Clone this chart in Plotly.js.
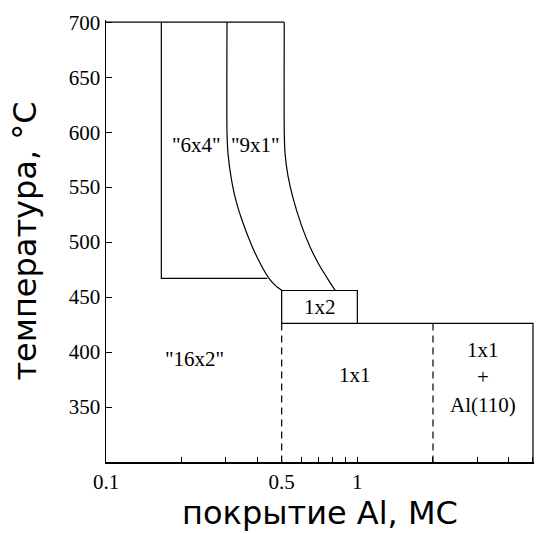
<!DOCTYPE html>
<html>
<head>
<meta charset="utf-8">
<script src="https://cdn.plot.ly/plotly-3.0.1.min.js"></script>
<style>
html,body{margin:0;padding:0;background:#fff;}
#chart{width:538px;height:534px;}
#chart .xtick text, #chart .ytick text { font-family: 'Liberation Serif', 'Times New Roman', serif !important; }
</style>
</head>
<body>
<div id="chart"></div>
<script>
// Phase boundaries (coverage Al in ML, temperature in °C)
const topEdgeX = [0.1, 0.512];
const topEdgeY = [700, 700];

const left6x4X = [0.166, 0.166, 0.438];
const left6x4Y = [700, 467, 467];

const curve1X = [0.303, 0.303, 0.306, 0.314, 0.327, 0.350, 0.380, 0.412, 0.445, 0.475, 0.502];
const curve1Y = [700, 600, 580, 560, 540, 518, 497, 480, 467, 460, 456];

const curve2X = [0.512, 0.512, 0.516, 0.530, 0.555, 0.600, 0.650, 0.710, 0.770, 0.817];
const curve2Y = [700, 600, 580, 560, 540, 515, 495, 478, 465, 456];

const box1x2X = [0.5, 0.5, 1.0, 1.0];
const box1x2Y = [426, 456, 456, 426];

const top1x1X = [0.5, 5, 5];
const top1x1Y = [426, 426, 300];

const dash05X = [0.5, 0.5];
const dash05Y = [426, 300];
const dash2X = [2, 2];
const dash2Y = [426, 300];

// Region labels
const labelText = ['"6x4"', '"9x1"', '"16x2"', '1x2', '1x1', '1x1<br>+<br>Al(110)'];
const labelX = [0.230, 0.392, 0.224, 0.712, 0.98, 3.15];
const labelY = [588, 588, 394, 441, 379, 377];

// Ticks
const xTickVals = [0.1, 0.2, 0.3, 0.4, 0.5, 0.6, 0.7, 0.8, 0.9, 1, 2, 3, 4, 5];
const xTickText = ['0.1', '', '', '', '0.5', '', '', '', '', '1', '', '', '', '5'];
const yTickVals = [350, 400, 450, 500, 550, 600, 650, 700];

const serif = 'Liberation Serif';
const sans = 'DejaVu Sans';

function seg(x, y, opts) {
  opts = opts || {};
  const line = {color: '#000', width: 1.2};
  if (opts.dash) line.dash = '7px,5px';
  if (opts.smooth) { line.shape = 'spline'; line.smoothing = 0.6; }
  return {x: x, y: y, type: 'scatter', mode: 'lines', hoverinfo: 'skip', showlegend: false, line: line};
}

const traces = [
  seg(topEdgeX, topEdgeY),
  seg(left6x4X, left6x4Y),
  seg(curve1X, curve1Y, {smooth: true}),
  seg(curve2X, curve2Y, {smooth: true}),
  seg(box1x2X, box1x2Y),
  seg(top1x1X, top1x1Y),
  seg(dash05X, dash05Y, {dash: true}),
  seg(dash2X, dash2Y, {dash: true})
];

const annotations = labelText.map((t, i) => ({
  x: Math.log10(labelX[i]), y: labelY[i], xref: 'x', yref: 'y', text: t,
  showarrow: false, font: {family: serif, size: 21, color: '#000'}
}));

const layout = {
  width: 538, height: 534,
  margin: {l: 106, r: 4, t: 20, b: 72},
  paper_bgcolor: '#fff', plot_bgcolor: '#fff',
  font: {family: serif, size: 21, color: '#000'},
  showlegend: false,
  xaxis: {
    type: 'log', range: [-1, Math.log10(5) + 0.004],
    tickmode: 'array', tickvals: xTickVals, ticktext: xTickText,
    ticks: 'inside', ticklen: 5, tickwidth: 1, tickcolor: '#000',
    showline: true, linecolor: '#000', linewidth: 1.5, mirror: false,
    showgrid: false, zeroline: false,
    tickfont: {family: serif, size: 21, color: '#000'},
    title: {text: 'покрытие Al, MC', font: {family: sans, size: 32, color: '#000'}, standoff: 8}
  },
  yaxis: {
    range: [300, 702],
    tickmode: 'array', tickvals: yTickVals,
    ticks: 'inside', ticklen: 6, tickwidth: 1, tickcolor: '#000',
    showline: true, linecolor: '#000', linewidth: 1.5,
    showgrid: false, zeroline: false, automargin: true,
    tickfont: {family: serif, size: 21, color: '#000'},
    title: {text: 'температура, °C', font: {family: sans, size: 32, color: '#000'}, standoff: 22}
  },
  annotations: annotations
};

Plotly.newPlot('chart', traces, layout, {displayModeBar: false, staticPlot: true});
</script>
</body>
</html>
